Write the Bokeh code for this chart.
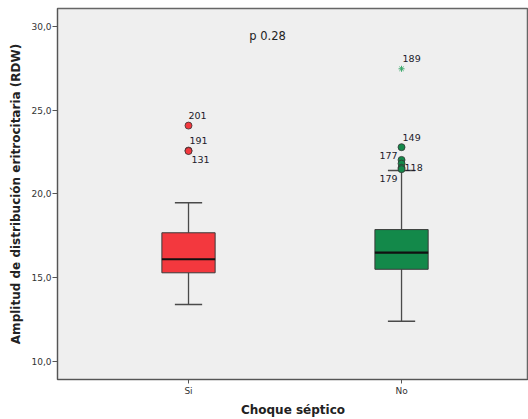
from bokeh.plotting import figure
from bokeh.models import ColumnDataSource, FixedTicker, CustomJSTickFormatter
from bokeh.core.properties import value
from bokeh.embed import file_html
from bokeh.resources import INLINE

# ---- data ----
categories = ["Si", "No"]
q1 = [15.28, 15.49]
median = [16.09, 16.49]
q3 = [17.67, 17.86]
whisker_low = [13.39, 12.39]
whisker_high = [19.47, 21.39]
box_colors = ["#f3383e", "#13894a"]

outlier_cat = ["Si", "Si", "Si", "No", "No", "No", "No", "No"]
outlier_val = [24.07, 22.58, 22.55, 22.78, 22.02, 21.80, 21.55, 21.47]
outlier_id = ["201", "191", "131", "149", "177", "", "118", "179"]
extreme_cat = ["No"]
extreme_val = [27.46]
extreme_id = ["189"]
p_text = "p 0.28"
p_pos = (1.371, 29.39)

# ---- styles ----
label_dx = [0, 1, 3, 1, -4, 0, 3, -4]
label_dy = [-10, -10, 8, -10, -4, 0, 0, 9]
label_align = ["left", "left", "left", "left", "right", "left", "left", "right"]

pos = {c: i + 1 for i, c in enumerate(categories)}
xs = [pos[c] for c in categories]

p = figure(width=528, height=419, output_backend="svg", toolbar_location=None,
           x_range=(0.385, 2.596), y_range=(8.91, 31.06),
           min_border_left=57, min_border_right=0, min_border_top=8, min_border_bottom=40)
p.background_fill_color = "#efefef"
p.border_fill_color = "white"
p.outline_line_color = "#666666"
p.outline_line_width = 1.5
p.xgrid.visible = False
p.ygrid.visible = False

src = ColumnDataSource(dict(x=xs, q1=q1, med=median, q3=q3, lo=whisker_low, hi=whisker_high,
                            color=box_colors,
                            xl=[v - 0.125 for v in xs], xr=[v + 0.125 for v in xs],
                            cl=[v - 0.064 for v in xs], cr=[v + 0.064 for v in xs]))

# whiskers
p.segment(x0="x", y0="q3", x1="x", y1="hi", source=src, line_color="#4a4a4a", line_width=1.3)
p.segment(x0="x", y0="lo", x1="x", y1="q1", source=src, line_color="#4a4a4a", line_width=1.3)
p.segment(x0="cl", y0="hi", x1="cr", y1="hi", source=src, line_color="#4a4a4a", line_width=1.5)
p.segment(x0="cl", y0="lo", x1="cr", y1="lo", source=src, line_color="#4a4a4a", line_width=1.5)
# boxes
p.vbar(x="x", width=0.25, bottom="q1", top="q3", source=src, fill_color="color",
       line_color="#3a3a3a", line_width=1)
p.segment(x0="xl", y0="med", x1="xr", y1="med", source=src, line_color="#111111", line_width=2.2)

# outliers
ocolors = [box_colors[categories.index(c)] for c in outlier_cat]
osrc = ColumnDataSource(dict(x=[pos[c] for c in outlier_cat], y=outlier_val, c=ocolors,
                             t=outlier_id, dx=label_dx, dy=label_dy, al=label_align))
p.scatter(x="x", y="y", source=osrc, marker="circle", size=7, fill_color="c",
          line_color="#333333", line_width=0.8)
p.text(x="x", y="y", text="t", source=osrc, x_offset="dx", y_offset="dy",
       text_align="al", text_baseline="middle", text_font=value("DejaVu Sans"),
       text_font_size="9.5px", text_color="#1a1a2a")

esrc = ColumnDataSource(dict(x=[pos[c] for c in extreme_cat], y=extreme_val, t=extreme_id))
p.scatter(x="x", y="y", source=esrc, marker="asterisk", size=6, line_color="#3aa86a", line_width=1)
p.text(x="x", y="y", text="t", source=esrc, x_offset=1, y_offset=-10, text_align="left",
       text_baseline="middle", text_font=value("DejaVu Sans"), text_font_size="9.5px",
       text_color="#1a1a2a")

p.text(x=[p_pos[0]], y=[p_pos[1]], text=[p_text], text_align="center", text_baseline="middle",
       text_font=value("DejaVu Sans"), text_font_size="11.5px", text_color="#222222")

# axes
p.xaxis.ticker = FixedTicker(ticks=xs)
p.xaxis.major_label_overrides = {pos[c]: c for c in categories}
p.xaxis.minor_tick_line_color = None
p.yaxis.ticker = FixedTicker(ticks=[10, 15, 20, 25, 30])
p.yaxis.formatter = CustomJSTickFormatter(code="return tick.toFixed(1).replace('.', ',');")
p.yaxis.minor_tick_line_color = None
for ax in (p.xaxis[0], p.yaxis[0]):
    ax.axis_line_color = "#555555"
    ax.major_tick_line_color = "#555555"
    ax.major_tick_in = 0
    ax.major_label_text_font = "DejaVu Sans"
    ax.major_label_text_font_size = "9px"
    ax.major_label_text_color = "#333333"
    ax.axis_label_text_font = "DejaVu Sans"
    ax.axis_label_text_font_style = "bold"
    ax.axis_label_text_font_size = "12px"
    ax.axis_label_text_color = "#222222"
p.xaxis.major_tick_out = 4
p.xaxis.major_label_standoff = 2
p.xaxis.axis_label = "Choque séptico"
p.xaxis.axis_label_standoff = 4
p.yaxis.major_tick_out = 5
p.yaxis.major_label_standoff = 1
p.yaxis.axis_label = "Amplitud de distribución eritrocitaria (RDW)"
p.yaxis.axis_label_standoff = 5

open("out.html", "w").write(file_html(p, INLINE))
